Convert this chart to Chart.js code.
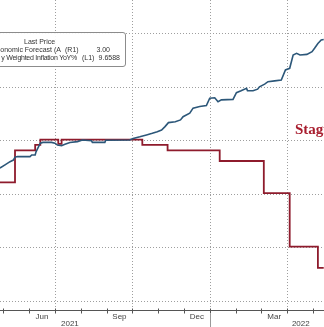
<!DOCTYPE html>
<html>
<head>
<meta charset="utf-8">
<script src="https://cdn.jsdelivr.net/npm/chart.js@4.4.0/dist/chart.umd.min.js"></script>
<style>
    html, body { margin: 0; padding: 0; background: #fff; }
    #wrap { position: relative; width: 324px; height: 327px; overflow: hidden; }
    #chart { position: absolute; left: 0; top: 0; }
    .legend-box {
        position: absolute; left: -60px; top: 32px; width: 184px; height: 33px;
        border: 1px solid #8c8c8c; border-radius: 3px; background: rgba(255,255,255,0.92);
    }
    .lg { position: absolute; font: 7px "Liberation Sans", sans-serif; color: #333; white-space: nowrap; line-height: 8px; }
    .tight { letter-spacing: -0.25px; }
    .note { position: absolute; left: 295px; top: 122px; font: bold 15px "Liberation Serif", serif; line-height: 15px; color: #a81d2e; white-space: nowrap; }
</style>
</head>
<body>
<div id="wrap">
    <canvas id="chart" width="324" height="327"></canvas>
    <div class="legend-box"></div>
    <span class="lg" style="left:24px;top:38px;">Last Price</span>
    <span class="lg" style="right:263px;top:45.5px;">Economic Forecast (A</span>
    <span class="lg" style="left:65px;top:45.5px;">(R1)</span>
    <span class="lg" style="right:214px;top:45.5px;">3.00</span>
    <span class="lg tight" style="right:247px;top:53.5px;">y Weighted Inflation YoY%</span>
    <span class="lg" style="left:82px;top:53.5px;">(L1)</span>
    <span class="lg" style="right:204px;top:53.5px;">9.6588</span>
    <span class="note">Stagflation</span>
</div>
<script>
// Inflation series (left axis)
const inflDates = [
    '2021-04-27','2021-05-03','2021-05-09','2021-05-13','2021-05-15','2021-05-18','2021-06-02','2021-06-04',
    '2021-06-08','2021-06-09','2021-06-12','2021-06-14','2021-06-17','2021-06-27','2021-07-01','2021-07-04',
    '2021-07-09','2021-07-13','2021-07-19','2021-07-28','2021-08-03','2021-08-14','2021-08-15','2021-08-30',
    '2021-08-31','2021-09-28','2021-10-02','2021-10-10','2021-10-18','2021-10-25','2021-10-31','2021-11-05',
    '2021-11-09','2021-11-13','2021-11-21','2021-11-27','2021-11-30','2021-12-08','2021-12-12','2021-12-20',
    '2021-12-28','2022-01-01','2022-01-07','2022-01-11','2022-01-15','2022-01-29','2022-02-02','2022-02-07',
    '2022-02-13','2022-02-14','2022-02-20','2022-02-25','2022-02-27','2022-03-05','2022-03-09','2022-03-17',
    '2022-03-25','2022-03-30','2022-04-04','2022-04-08','2022-04-12','2022-04-16','2022-04-24','2022-04-30',
    '2022-05-03','2022-05-07','2022-05-11','2022-05-14'
];
const inflValues = [
    4.95, 5.07, 5.19, 5.25, 5.36, 5.38, 5.38, 5.44,
    5.44, 5.56, 5.75, 5.88, 5.91, 5.91, 5.88, 5.81,
    5.79, 5.84, 5.91, 5.94, 6.00, 5.97, 5.91, 5.91,
    5.99, 6.00, 6.06, 6.12, 6.19, 6.25, 6.31, 6.37,
    6.50, 6.65, 6.68, 6.75, 6.87, 7.00, 7.19, 7.25,
    7.29, 7.56, 7.58, 7.43, 7.50, 7.52, 7.77, 7.84,
    7.93, 7.84, 7.84, 7.90, 7.99, 8.09, 8.18, 8.21,
    8.24, 8.62, 8.68, 9.18, 9.24, 9.18, 9.20, 9.30,
    9.43, 9.61, 9.74, 9.76
];

// Economic forecast (right axis, step line)
const fcstDates = [
    '2021-04-27','2021-05-15','2021-06-08','2021-06-14','2021-07-05','2021-07-09','2021-10-13',
    '2021-11-12','2022-01-13','2022-03-04','2022-04-04','2022-05-07','2022-05-14'
];
const fcstValues = [3.80, 4.10, 4.15, 4.20, 4.16, 4.20, 4.15, 4.10, 4.00, 3.70, 3.20, 3.00, 3.00];

// Axis labels
const monthLabels = ['Jun', 'Sep', 'Dec', 'Mar'];
const monthLabelAt = [5.5, 8.5, 11.5, 14.5];
const yearLabels = ['2021', '2022'];
const yearLabelAt = [6.58, 15.53];
const gridMonths = [6, 9, 12, 15];
const gridLeftValues = [0, 2, 4, 6, 8, 10];

// months since Jan 2021, fractional
function monthIndex(s) {
    const [y, m, d] = s.split('-').map(Number);
    const dim = new Date(y, m, 0).getDate();
    return (y - 2021) * 12 + (m - 1) + (d - 1) / dim;
}

const inflPoints = inflDates.map((d, i) => ({ x: monthIndex(d), y: inflValues[i] }));
const fcstPoints = fcstDates.map((d, i) => ({ x: monthIndex(d), y: fcstValues[i] }));

const gridPlugin = {
    id: 'bbgGrid',
    beforeDatasetsDraw(chart) {
        const ctx = chart.ctx;
        const area = chart.chartArea;
        const xs = chart.scales.x;
        const yl = chart.scales.yL;
        ctx.save();
        ctx.strokeStyle = '#9e9e9e';
        ctx.lineWidth = 1;
        ctx.setLineDash([1, 2]);
        gridMonths.forEach(m => {
            const x = Math.round(xs.getPixelForValue(m)) + 0.5;
            ctx.beginPath();
            ctx.moveTo(x, area.top);
            ctx.lineTo(x, area.bottom);
            ctx.stroke();
        });
        gridLeftValues.forEach(v => {
            const y = Math.round(yl.getPixelForValue(v)) + 0.5;
            ctx.beginPath();
            ctx.moveTo(area.left, y);
            ctx.lineTo(area.right, y);
            ctx.stroke();
        });
        ctx.restore();
    },
    afterDraw(chart) {
        const ctx = chart.ctx;
        const area = chart.chartArea;
        const xs = chart.scales.x;
        const base = Math.round(area.bottom) + 0.5;
        ctx.save();
        // axis line and monthly ticks
        ctx.strokeStyle = '#555';
        ctx.lineWidth = 1;
        ctx.beginPath();
        ctx.moveTo(0, base);
        ctx.lineTo(chart.width, base);
        for (let m = 4; m <= 16; m++) {
            const x = Math.round(xs.getPixelForValue(m)) + 0.5;
            ctx.moveTo(x, base - 2);
            ctx.lineTo(x, base + 3);
        }
        ctx.stroke();
        // year separator
        ctx.strokeStyle = '#999';
        const sx = Math.round(xs.getPixelForValue(12)) + 0.5;
        ctx.beginPath();
        ctx.moveTo(sx, base + 3);
        ctx.lineTo(sx, chart.height);
        ctx.stroke();
        // labels
        ctx.fillStyle = '#444';
        ctx.font = '8px "Liberation Sans", sans-serif';
        ctx.textAlign = 'center';
        ctx.textBaseline = 'middle';
        monthLabels.forEach((t, i) => ctx.fillText(t, xs.getPixelForValue(monthLabelAt[i]), base + 6));
        yearLabels.forEach((t, i) => ctx.fillText(t, xs.getPixelForValue(yearLabelAt[i]), base + 13));
        ctx.restore();
    }
};

document.addEventListener('DOMContentLoaded', function() {
    const ctx = document.getElementById('chart').getContext('2d');
    new Chart(ctx, {
        type: 'line',
        data: {
            datasets: [
                {
                    label: 'Weighted Inflation YoY%',
                    data: inflPoints,
                    yAxisID: 'yL',
                    borderColor: '#2c5779',
                    borderWidth: 1.6,
                    pointRadius: 0,
                    tension: 0
                },
                {
                    label: 'Economic Forecast',
                    data: fcstPoints,
                    yAxisID: 'yR',
                    borderColor: '#8e1b2c',
                    borderWidth: 1.8,
                    pointRadius: 0,
                    stepped: true
                }
            ]
        },
        options: {
            responsive: false,
            animation: false,
            layout: { padding: { left: 0, right: 0, top: 0, bottom: 17 } },
            plugins: { legend: { display: false }, tooltip: { enabled: false } },
            scales: {
                x: { type: 'linear', min: 3.87, max: 16.43, display: false },
                yL: { type: 'linear', position: 'left', min: -0.355, max: 11.234, display: false },
                yR: { type: 'linear', position: 'right', min: 2.607, max: 5.505, display: false }
            }
        },
        plugins: [gridPlugin]
    });
});
</script>
</body>
</html>
